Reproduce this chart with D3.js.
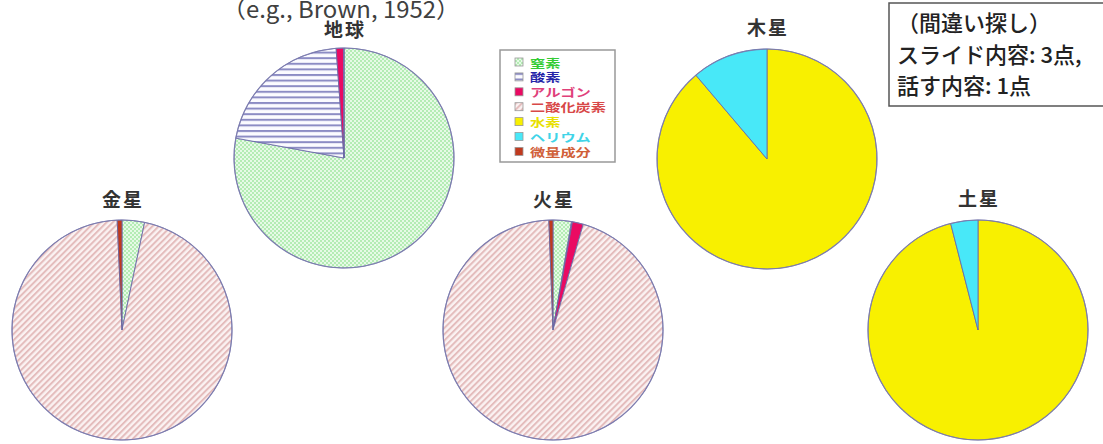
<!DOCTYPE html>
<html>
<head>
<meta charset="utf-8">
<script src="https://cdn.jsdelivr.net/npm/d3@7"></script>
<style>
  html, body { margin: 0; padding: 0; background: #fff; }
  svg { display: block; }
  text { font-family: "Noto Sans CJK JP", "Noto Sans", sans-serif; }
</style>
</head>
<body>
<svg id="chart" width="1103" height="444"></svg>
<script>
// Atmospheric composition of planets (volume %)
const gases = ["窒素", "酸素", "アルゴン", "二酸化炭素", "水素", "ヘリウム", "微量成分"];
const planets = ["地球", "金星", "火星", "木星", "土星"];
const earthValues   = [78, 21, 1.1, 0.04, 0, 0, 0];
const venusValues   = [3.3, 0, 0, 96.0, 0, 0, 0.7];
const marsValues    = [2.7, 0.13, 1.6, 95.0, 0, 0, 0.6];
const jupiterValues = [0, 0, 0, 0, 88.8, 11.2, 0];
const saturnValues  = [0, 0, 0, 0, 96.0, 4.0, 0];
const planetValues = [earthValues, venusValues, marsValues, jupiterValues, saturnValues];
const sourceNote = "（e.g., Brown, 1952）";
const noteLines = ["（間違い探し）", "スライド内容: 3点,", "話す内容: 1点"];

const svg = d3.select("#chart");
const defs = svg.append("defs");

// Fill patterns
const pN = defs.append("pattern").attr("id", "pat-n2").attr("patternUnits", "userSpaceOnUse")
  .attr("width", 4).attr("height", 4);
pN.append("rect").attr("width", 4).attr("height", 4).attr("fill", "#b4ecb4");
pN.append("rect").attr("x", 0).attr("y", 0).attr("width", 2).attr("height", 2).attr("fill", "#e6fae6");
pN.append("rect").attr("x", 2).attr("y", 2).attr("width", 2).attr("height", 2).attr("fill", "#e6fae6");

const pO = defs.append("pattern").attr("id", "pat-o2").attr("patternUnits", "userSpaceOnUse")
  .attr("width", 6).attr("height", 5.6);
pO.append("rect").attr("width", 6).attr("height", 5.6).attr("fill", "#fbfbff");
pO.append("rect").attr("y", 0).attr("width", 6).attr("height", 2).attr("fill", "#8c8cc4");

const pC = defs.append("pattern").attr("id", "pat-co2").attr("patternUnits", "userSpaceOnUse")
  .attr("width", 4.4).attr("height", 10).attr("patternTransform", "rotate(45)");
pC.append("rect").attr("width", 4.4).attr("height", 10).attr("fill", "#fbf2f2");
pC.append("rect").attr("width", 2).attr("height", 10).attr("fill", "#e4bcbc");

const fills = ["url(#pat-n2)", "url(#pat-o2)", "#ea0a62", "url(#pat-co2)", "#f8f000", "#48e8f8", "#c03a1e"];
const labelColors = ["#33cc33", "#2424a8", "#e0407a", "#d84848", "#e8e000", "#40d4e8", "#d06038"];

const color = d3.scaleOrdinal().domain(gases).range(fills);
const textColor = d3.scaleOrdinal().domain(gases).range(labelColors);

// Pie placement
const layout = [
  { cx: 344, cy: 158, ty: 28 },
  { cx: 122, cy: 330, ty: 198 },
  { cx: 553, cy: 330, ty: 198 },
  { cx: 767, cy: 159, ty: 26 },
  { cx: 978, cy: 330, ty: 197 }
];
const radius = 110;

const pie = d3.pie().sort(null).value(d => d.value).startAngle(0).endAngle(2 * Math.PI);
const arc = d3.arc().innerRadius(0).outerRadius(radius);

planets.forEach((name, i) => {
  const rows = gases.map((g, k) => ({ gas: g, value: planetValues[i][k] }));
  const g = svg.append("g").attr("transform", `translate(${layout[i].cx},${layout[i].cy})`);
  g.selectAll("path")
    .data(pie(rows).filter(d => d.data.value > 0))
    .join("path")
    .attr("d", arc)
    .attr("fill", d => color(d.data.gas))
    .attr("stroke", "#6a6aa6")
    .attr("stroke-opacity", 0.85)
    .attr("stroke-width", 1);
  g.append("circle").attr("r", radius).attr("fill", "none")
    .attr("stroke", "#7a7aae").attr("stroke-width", 1.2).attr("stroke-opacity", 0.8);

  svg.append("text")
    .attr("x", layout[i].cx + 1).attr("y", layout[i].ty)
    .attr("text-anchor", "middle").attr("dominant-baseline", "central")
    .attr("font-size", 19).attr("font-weight", 700).attr("fill", "#333")
    .attr("letter-spacing", 2)
    .text(name);
});

// Source note at the top
svg.append("text")
  .attr("x", 222).attr("y", 18)
  .attr("font-family", "'Open Sans', 'Noto Sans CJK JP', sans-serif")
  .attr("font-size", 23).attr("fill", "#404040")
  .attr("textLength", 238).attr("lengthAdjust", "spacingAndGlyphs")
  .text(sourceNote);

// Legend
const legend = svg.append("g").attr("transform", "translate(500,50)");
legend.append("rect").attr("width", 115).attr("height", 112)
  .attr("fill", "#fff").attr("stroke", "#999").attr("stroke-width", 1.5);
const item = legend.selectAll("g.item").data(gases).join("g")
  .attr("class", "item")
  .attr("transform", (d, k) => `translate(15,${8 + k * 14.9})`);
item.append("rect").attr("width", 8).attr("height", 8)
  .attr("fill", d => color(d)).attr("stroke", "#999").attr("stroke-width", 0.8);
item.append("text").attr("x", 15).attr("y", 4.5)
  .attr("dominant-baseline", "central")
  .attr("font-size", 11.5).attr("font-weight", 700)
  .attr("textLength", d => d.length * 15.2).attr("lengthAdjust", "spacingAndGlyphs")
  .attr("fill", d => textColor(d))
  .text(d => d);

// Note box at top right
const note = svg.append("g").attr("transform", "translate(889,3)");
note.append("rect").attr("width", 240).attr("height", 103)
  .attr("fill", "#fff").attr("stroke", "#555").attr("stroke-width", 1.5);
note.selectAll("text").data(noteLines).join("text")
  .attr("x", 8).attr("y", (d, k) => 18 + k * 31.5)
  .attr("dominant-baseline", "central")
  .attr("font-size", 22).attr("font-weight", 500).attr("fill", "#222")
  .text(d => d);
</script>
</body>
</html>
